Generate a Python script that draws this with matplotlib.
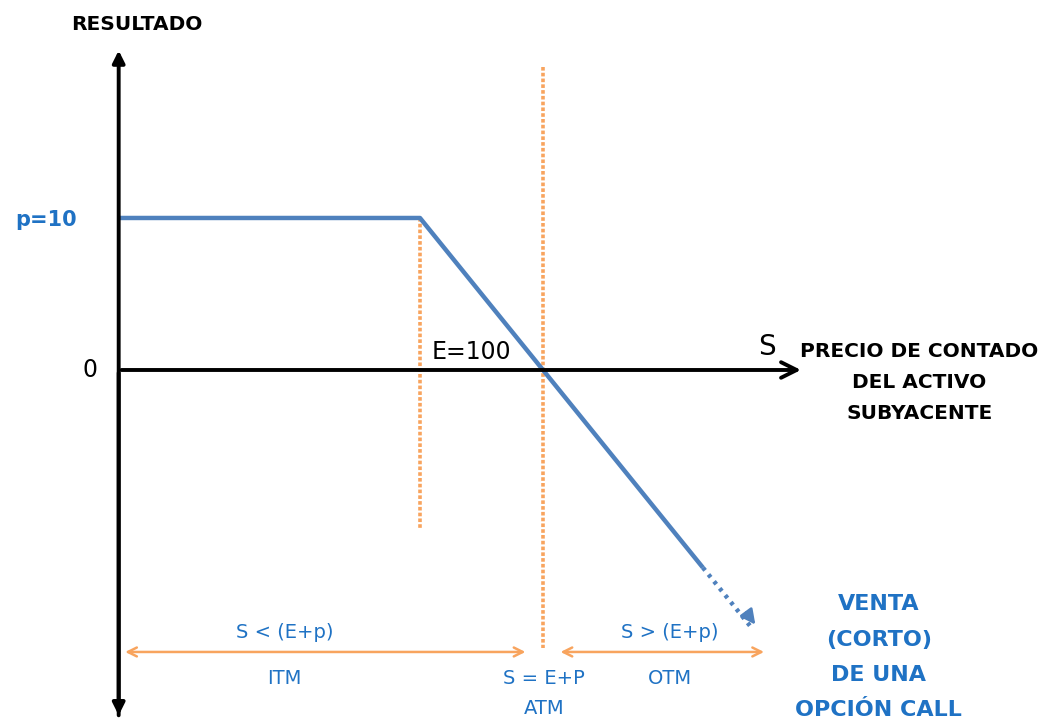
import matplotlib.pyplot as plt

plt.rcParams["font.family"] = ["DejaVu Sans"]

# payoff of a short call: E = 100, premium p = 10
E = 100
p = 10
S = [75.5, 100, 123]
resultado = [10, 10, -13]
S_dot = [123, 127]
res_dot = [-13, -17]

blue_line = "#4f81bd"
orange = "#f8a45e"
txt_blue = "#1f72c4"

fig = plt.figure(figsize=(10.47, 7.19), dpi=100)
ax = fig.add_axes([0, 0, 1, 1])
ax.set_xlim(65.85, 150.98)
ax.set_ylim(-22.96, 24.34)
ax.axis("off")

# axes with arrows
ax.annotate("", xy=(75.5, 21.2), xytext=(75.5, -22.9),
            arrowprops=dict(arrowstyle="-|>", color="black", lw=2.8, mutation_scale=18))
ax.annotate("", xy=(75.5, -22.9), xytext=(75.5, 0),
            arrowprops=dict(arrowstyle="-|>", color="black", lw=2.8, mutation_scale=18))
ax.annotate("", xy=(131.2, 0), xytext=(75.5, 0),
            arrowprops=dict(arrowstyle="->", color="black", lw=2.8, mutation_scale=28))

# vertical dotted guides
ax.plot([E, E], [p, -10.5], color=orange, lw=2.6, ls=(0, (1, 0.6)))
ax.plot([E + p, E + p], [19.9, -18.3], color=orange, lw=2.6, ls=(0, (1, 0.6)))

# payoff line
ax.plot(S, resultado, color=blue_line, lw=3.2, solid_capstyle="butt")
ax.plot(S_dot, res_dot, color=blue_line, lw=3.2, ls=(0, (0.8, 1.2)))
ax.annotate("", xy=(127.4, -16.9), xytext=(126.4, -15.8),
            arrowprops=dict(arrowstyle="-|>", color=blue_line, lw=2, mutation_scale=22))

# ITM / OTM ranges
ax.annotate("", xy=(75.8, -18.55), xytext=(108.8, -18.55),
            arrowprops=dict(arrowstyle="<->", color=orange, lw=1.8, mutation_scale=16))
ax.annotate("", xy=(111.2, -18.55), xytext=(128.2, -18.55),
            arrowprops=dict(arrowstyle="<->", color=orange, lw=1.8, mutation_scale=16))

# labels
ax.text(77.0, 22.7, "RESULTADO", fontsize=14.5, fontweight="heavy", ha="center", va="center")
ax.text(69.6, 9.9, "p=10", fontsize=15, fontweight="bold", color=txt_blue, ha="center", va="center")
ax.text(73.2, 0, "0", fontsize=17, ha="center", va="center")
ax.text(104.2, 1.2, "E=100", fontsize=17, ha="center", va="center")
ax.text(128.2, 1.5, "S", fontsize=20, ha="center", va="center")
ax.text(140.6, -0.8, "PRECIO DE CONTADO\nDEL ACTIVO\nSUBYACENTE", fontsize=14.5,
        fontweight="heavy", ha="center", va="center", linespacing=1.8)
ax.text(89.0, -17.3, "S < (E+p)", fontsize=14, color=txt_blue, ha="center", va="center")
ax.text(89.0, -20.3, "ITM", fontsize=14, color=txt_blue, ha="center", va="center")
ax.text(110.1, -20.3, "S = E+P", fontsize=14, color=txt_blue, ha="center", va="center")
ax.text(110.1, -22.25, "ATM", fontsize=14, color=txt_blue, ha="center", va="center")
ax.text(120.3, -17.3, "S > (E+p)", fontsize=14, color=txt_blue, ha="center", va="center")
ax.text(120.3, -20.3, "OTM", fontsize=14, color=txt_blue, ha="center", va="center")
ax.text(137.3, -18.9, "VENTA\n(CORTO)\nDE UNA\nOPCIÓN CALL", fontsize=16,
        fontweight="heavy", color=txt_blue, ha="center", va="center", linespacing=1.95)

fig.savefig("out.png", dpi=100)
